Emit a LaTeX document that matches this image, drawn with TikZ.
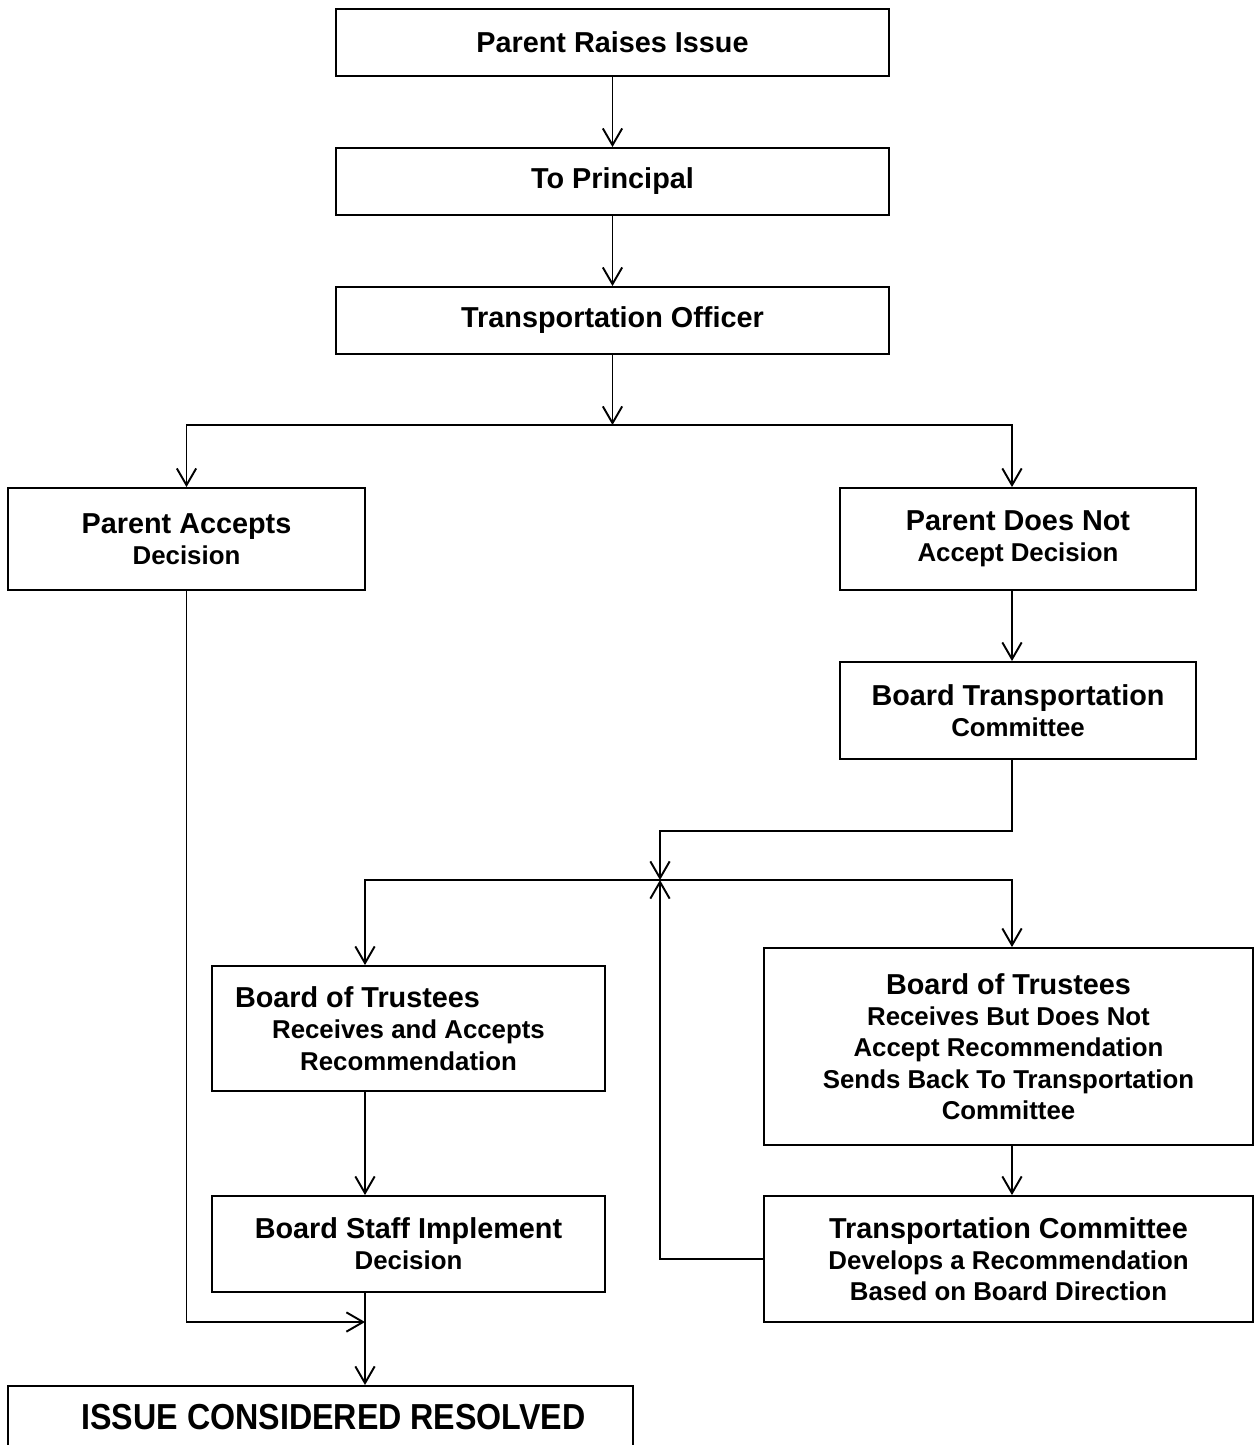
\documentclass[tikz,border=0pt]{standalone}
\usepackage{fontspec}
\setmainfont{Liberation Sans}
\usetikzlibrary{arrows.meta}
\newcommand{\headline}{\fontsize{16.4}{17.8}\selectfont}
\newcommand{\subline}{\fontsize{14.7}{17.8}\selectfont}
\tikzset{
    box/.style={draw,line width=1.1pt,inner sep=0pt,align=center,font=\bfseries\headline},
    flow/.style={line width=1.1pt,-{Straight Barb[length=9.5pt,width=11pt]}}
}
\begin{document}
\begin{tikzpicture}[x=0.02cm,y=-0.02cm]
                \useasboundingbox (0,0) rectangle (1254,1445);
                % columns the connectors run in
                \coordinate (lcol) at (365,0);
                \coordinate (mcol) at (660,0);
                \coordinate (rcol) at (1012,0);
                \node[box,minimum width=11.06cm,minimum height=1.34cm] (raise) at (612.5,42.5) {Parent Raises Issue};
                \node[box,minimum width=11.06cm,minimum height=1.34cm] (principal) at (612.5,181.5) {To Principal};
                \node[box,minimum width=11.06cm,minimum height=1.34cm] (officer) at (612.5,320.5) {Transportation Officer};
                \node[box,minimum width=7.14cm,minimum height=2.04cm] (accepts) at (186.5,539) {Parent Accepts\\\subline Decision};
                \node[box,minimum width=7.12cm,minimum height=2.04cm] (notaccept) at (1018,539) {Parent Does Not\\\subline Accept Decision};
                \node[box,minimum width=7.12cm,minimum height=1.94cm] (committee) at (1018,710.5) {Board Transportation\\\subline Committee};
                \node[box,minimum width=7.86cm,minimum height=2.5cm] (trustok) at (408.5,1028.5) {Board of Trustees\hspace*{2.04cm}\\\subline Receives and Accepts\\\subline Recommendation};
                \node[box,minimum width=9.78cm,minimum height=3.94cm] (trustno) at (1008.5,1046.5) {Board of Trustees\\\subline Receives But Does Not\\\subline Accept Recommendation\\\subline Sends Back To Transportation\\\subline Committee};
                \node[box,minimum width=9.78cm,minimum height=2.52cm] (develops) at (1008.5,1259) {Transportation Committee\\\subline Develops a Recommendation\\\subline Based on Board Direction};
                \node[box,minimum width=7.86cm,minimum height=1.92cm] (staff) at (408.5,1244) {Board Staff Implement\\\subline Decision};
                \node[box,anchor=north,minimum width=12.5cm,minimum height=1.24cm,font=\bfseries\fontsize{18.7}{20}\selectfont] (resolved) at (320.5,1385) {\hspace*{0.52cm}\scalebox{0.98}[1.1]{ISSUE CONSIDERED RESOLVED}};
                % branch points
                \coordinate (split) at (612.5,425);
                \coordinate (turn) at (1012,831);
                \coordinate (merge) at (660,880);
                \coordinate (join) at (365,1322);
                \draw[flow] (raise) -- (principal);
                \draw[flow] (principal) -- (officer);
                \draw[flow] (officer.south) -- (split);
                \draw[flow] (split) -| (accepts.north);
                \draw[flow] (split) -| (notaccept.north -| rcol);
                \draw[flow] (notaccept.south -| rcol) -- (committee.north -| rcol);
                \draw[flow] (committee.south -| rcol) -- (turn) -| (merge);
                \draw[flow] (merge) -| (trustok.north -| lcol);
                \draw[flow] (merge) -| (trustno.north -| rcol);
                \draw[flow] (trustno.south -| rcol) -- (develops.north -| rcol);
                \draw[flow] (develops.west) -| (merge);
                \draw[flow] (trustok.south -| lcol) -- (staff.north -| lcol);
                \draw[flow] (accepts.south) |- (join);
                \draw[flow] (staff.south -| lcol) -- (resolved.north -| lcol);
\end{tikzpicture}
\end{document}
